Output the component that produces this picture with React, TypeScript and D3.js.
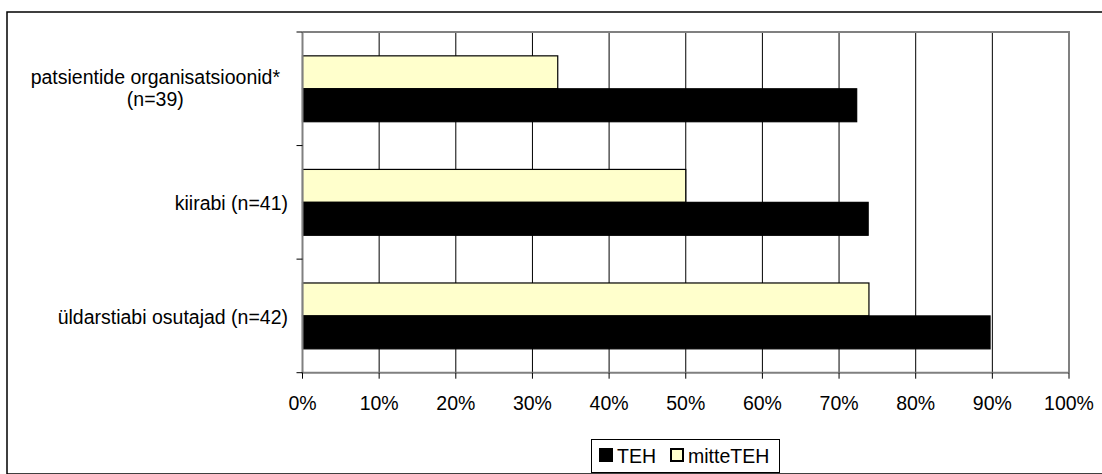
import React, { useEffect, useRef } from "react";
import * as d3 from "d3";

const categories = [
  "patsientide organisatsioonid*\n(n=39)",
  "kiirabi (n=41)",
  "üldarstiabi osutajad (n=42)",
];
const seriesNames = ["mitteTEH", "TEH"];
const tehValues = [0.723, 0.738, 0.897];
const mitteTehValues = [0.333, 0.5, 0.739];
const xTicks = [0, 0.1, 0.2, 0.3, 0.4, 0.5, 0.6, 0.7, 0.8, 0.9, 1.0];
const legendItems = ["TEH", "mitteTEH"];

const W = 1102;
const H = 474;
const FONT = "'Liberation Sans', Arial, Helvetica, sans-serif";
const FS = 19.5;

export default function App() {
  const ref = useRef<SVGSVGElement | null>(null);

  useEffect(() => {
    const svg = d3.select(ref.current);
    svg.selectAll("*").remove();

    const left = 302.5, right = 1069, top = 32, bottom = 372.7;
    const x = d3.scaleLinear().domain([0, 1]).range([left, right]);
    const y = d3.scaleBand<string>().domain(categories).range([top, bottom]).padding(0);
    const bw = y.bandwidth();
    const inner = d3.scaleBand<string>().domain(seriesNames).range([bw * 0.21, bw * 0.79]).padding(0);
    const colors: Record<string, string> = { TEH: "#000000", mitteTEH: "#FFFFCC" };
    const valuesBy: Record<string, number[]> = { TEH: tehValues, mitteTEH: mitteTehValues };

    // outer frame
    svg.append("rect").attr("x", 7).attr("y", 12).attr("width", 1200).attr("height", 462)
      .attr("fill", "white").attr("stroke", "#000").attr("stroke-width", 1.5);

    // gridlines
    svg.append("g").selectAll("line").data(xTicks.slice(1, -1)).join("line")
      .attr("x1", d => x(d)).attr("x2", d => x(d)).attr("y1", top).attr("y2", bottom)
      .attr("stroke", "#000").attr("stroke-width", 1);

    // plot border top/right
    svg.append("path")
      .attr("d", `M${left},${top}H${right}V${bottom}`)
      .attr("fill", "none").attr("stroke", "#808080").attr("stroke-width", 2);

    // bars
    seriesNames.forEach(s => {
      svg.append("g").selectAll("rect").data(categories).join("rect")
        .attr("x", x(0))
        .attr("y", (c) => (y(c) as number) + (inner(s) as number))
        .attr("width", (_c, i) => x(valuesBy[s][i]) - x(0))
        .attr("height", inner.bandwidth())
        .attr("fill", colors[s]).attr("stroke", "#000").attr("stroke-width", 1.2);
    });

    // axes lines
    svg.append("path").attr("d", `M${left},${top}V${bottom}H${right}`)
      .attr("fill", "none").attr("stroke", "#808080").attr("stroke-width", 2);

    // y ticks at band boundaries
    const yBounds = categories.map(c => y(c) as number).concat([bottom]);
    svg.append("g").selectAll("line").data(yBounds).join("line")
      .attr("x1", left - 6).attr("x2", left).attr("y1", d => d).attr("y2", d => d)
      .attr("stroke", "#000").attr("stroke-width", 1);

    // x ticks
    svg.append("g").selectAll("line").data(xTicks).join("line")
      .attr("x1", d => x(d)).attr("x2", d => x(d)).attr("y1", bottom).attr("y2", bottom + 6)
      .attr("stroke", "#000").attr("stroke-width", 1);

    // x tick labels
    const fmt = d3.format(".0%");
    svg.append("g").selectAll("text").data(xTicks).join("text")
      .attr("x", d => x(d)).attr("y", 410).attr("text-anchor", "middle")
      .attr("font-family", FONT).attr("font-size", FS).attr("fill", "#000")
      .text(d => fmt(d));

    // category labels
    const labelRight = 288;
    categories.forEach(c => {
      const lines = c.split("\n");
      const cy = (y(c) as number) + bw / 2;
      const t = svg.append("text").attr("font-family", FONT).attr("font-size", FS).attr("fill", "#000");
      if (lines.length === 1) {
        t.attr("x", labelRight).attr("y", cy + 8).attr("text-anchor", "end").text(lines[0]);
      } else {
        const lh = 22.5;
        const spans = lines.map((l, i) =>
          t.append("tspan").attr("y", cy + 6 - ((lines.length - 1) * lh) / 2 + i * lh).text(l));
        const maxW = d3.max(spans.map(sp => (sp.node() as SVGTSpanElement).getComputedTextLength())) || 0;
        const cx = labelRight - 8 - maxW / 2;
        spans.forEach(sp => sp.attr("x", cx));
        t.attr("text-anchor", "middle");
      }
    });

    // legend
    const lg = svg.append("g");
    lg.append("rect").attr("x", 591.5).attr("y", 439.5).attr("width", 188).attr("height", 33)
      .attr("fill", "white").attr("stroke", "#000").attr("stroke-width", 1);
    let lx = 599;
    legendItems.forEach(s => {
      lg.append("rect").attr("x", lx + 1).attr("y", 449).attr("width", 12).attr("height", 12)
        .attr("fill", colors[s]).attr("stroke", "#000").attr("stroke-width", 2);
      const tx = lg.append("text").attr("x", lx + 18).attr("y", 462.5)
        .attr("font-family", FONT).attr("font-size", FS).attr("fill", "#000").text(s);
      const w = (tx.node() as SVGTextElement).getComputedTextLength();
      lx = lx + 18 + w + 14;
    });
  }, []);

  return (
    <svg ref={ref} width={W} height={H}
      style={{ position: "absolute", left: 0, top: 0, background: "white" }} />
  );
}
